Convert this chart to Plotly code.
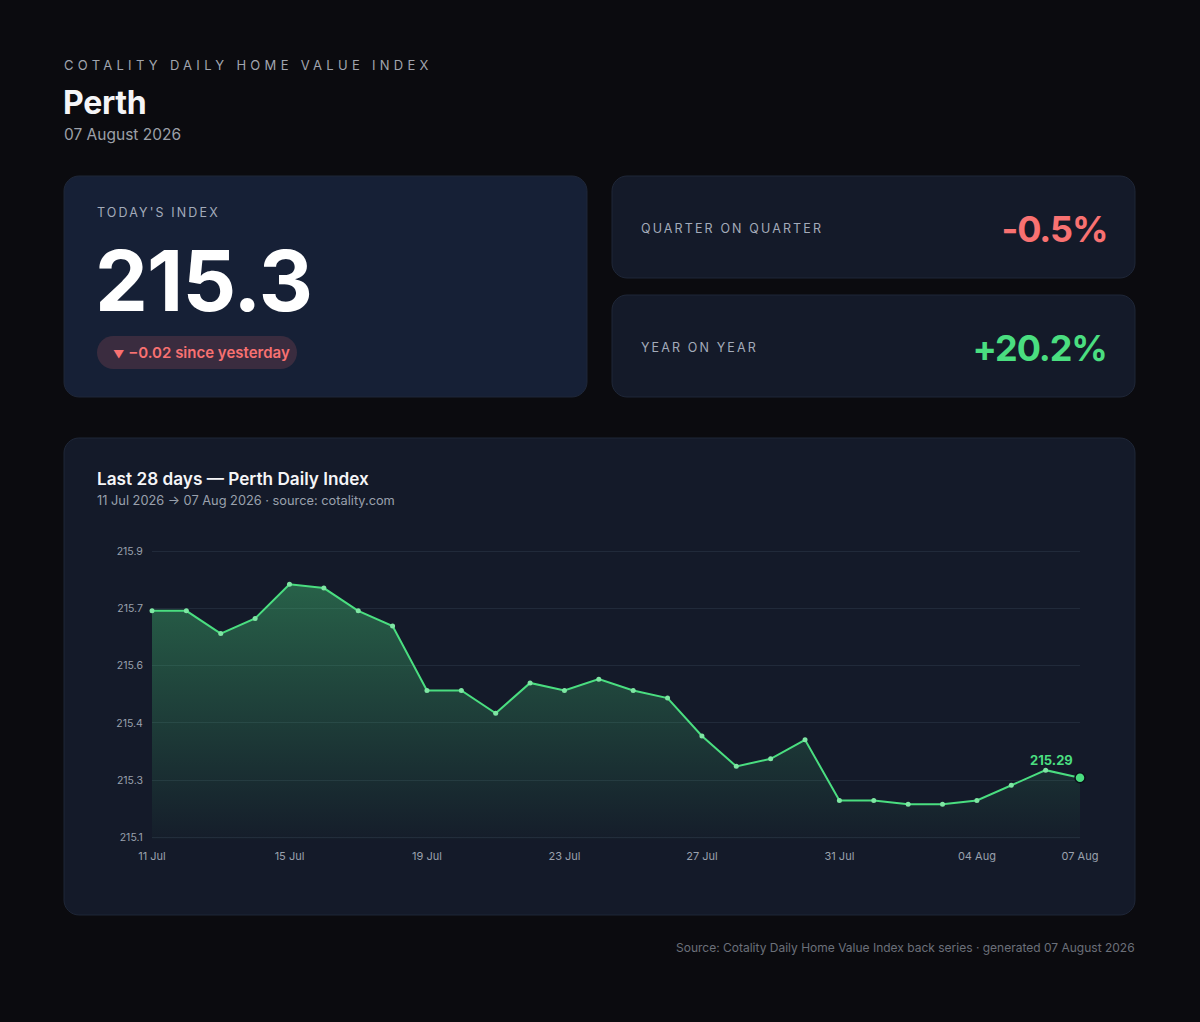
import json
import plotly.graph_objects as go

W, H = 1200, 1022

# data
dates = [
    "2026-07-11", "2026-07-12", "2026-07-13", "2026-07-14", "2026-07-15", "2026-07-16", "2026-07-17",
    "2026-07-18", "2026-07-19", "2026-07-20", "2026-07-21", "2026-07-22", "2026-07-23", "2026-07-24",
    "2026-07-25", "2026-07-26", "2026-07-27", "2026-07-28", "2026-07-29", "2026-07-30", "2026-07-31",
    "2026-08-01", "2026-08-02", "2026-08-03", "2026-08-04", "2026-08-05", "2026-08-06", "2026-08-07",
]
index_values = [
    215.73, 215.73, 215.67, 215.71, 215.80, 215.79, 215.73,
    215.69, 215.52, 215.52, 215.46, 215.54, 215.52, 215.55,
    215.52, 215.50, 215.40, 215.32, 215.34, 215.39, 215.23,
    215.23, 215.22, 215.22, 215.23, 215.27, 215.31, 215.29,
]
quarter_change = -0.5
year_change = 20.2
city = "Perth"
report_date = "07 August 2026"

BG = "#0b0b0f"
CARD = "#141a29"
CARD_HI = "#162036"
BORDER = "#1f2738"
GREEN = "#4ade80"
RED = "#f87171"
FONT = "Inter"

# plot box inside the chart card (pixels)
PLOT_L, PLOT_R, PLOT_T, PLOT_B = 152, 1080, 551.3, 837.3
GRID_PAD = 2  # px added above/below so the edge grid lines are kept


# UTILS
def fx(x):
    return x / W


def fy(y):
    return 1 - y / H


def rounded_path(x0, y0, x1, y1, r):
    k = 0.5523 * r
    pts = [
        "M %f,%f" % (fx(x0 + r), fy(y0)),
        "L %f,%f" % (fx(x1 - r), fy(y0)),
        "C %f,%f %f,%f %f,%f" % (fx(x1 - r + k), fy(y0), fx(x1), fy(y0 + r - k), fx(x1), fy(y0 + r)),
        "L %f,%f" % (fx(x1), fy(y1 - r)),
        "C %f,%f %f,%f %f,%f" % (fx(x1), fy(y1 - r + k), fx(x1 - r + k), fy(y1), fx(x1 - r), fy(y1)),
        "L %f,%f" % (fx(x0 + r), fy(y1)),
        "C %f,%f %f,%f %f,%f" % (fx(x0 + r - k), fy(y1), fx(x0), fy(y1 - r + k), fx(x0), fy(y1 - r)),
        "L %f,%f" % (fx(x0), fy(y0 + r)),
        "C %f,%f %f,%f %f,%f" % (fx(x0), fy(y0 + r - k), fx(x0 + r - k), fy(y0), fx(x0 + r), fy(y0)),
        "Z",
    ]
    return " ".join(pts)


def card(x0, y0, x1, y1, fill, r=15, line=BORDER):
    return dict(type="path", xref="paper", yref="paper", layer="below",
                path=rounded_path(x0, y0, x1, y1, r), fillcolor=fill,
                line=dict(color=line, width=1))


def label(x, y, text, size, color, weight=400, xanchor="left", align="left"):
    return dict(x=fx(x), y=fy(y), xref="paper", yref="paper", text=text, showarrow=False,
                xanchor=xanchor, yanchor="middle", align=align,
                font=dict(family=FONT, size=size, color=color, weight=weight))


last = index_values[-1]
delta = index_values[-1] - index_values[-2]
lo, hi = min(index_values), max(index_values)
pad = (hi - lo) * 0.15
y_lo, y_hi = lo - pad, hi + pad
y_ticks = [y_lo + i * (y_hi - y_lo) / 5 for i in range(6)]
x_ticks = dates[::4] + [dates[-1]]
eps = GRID_PAD * (y_hi - y_lo) / (PLOT_B - PLOT_T)

fig = go.Figure()

fig.add_trace(go.Scatter(
    x=dates, y=index_values, mode="lines+markers", fill="tozeroy",
    line=dict(color=GREEN, width=2),
    marker=dict(size=5, color="#7ee6a3"),
    fillgradient=dict(type="vertical", start=y_lo, stop=hi,
                      colorscale=[[0, "rgba(74,222,128,0.02)"], [1, "rgba(74,222,128,0.36)"]]),
    cliponaxis=False, hoverinfo="skip", showlegend=False))

fig.add_trace(go.Scatter(
    x=[dates[-1]], y=[last], mode="markers",
    marker=dict(size=10, color=GREEN, line=dict(color="#0b0f19", width=1.5)),
    cliponaxis=False, hoverinfo="skip", showlegend=False))

shapes = [
    card(64, 176, 587, 397, CARD_HI),
    card(612, 176, 1135, 278, CARD),
    card(612, 295, 1135, 397, CARD),
    card(64, 438, 1135, 915, CARD),
    card(97, 336, 297, 369, "rgba(248,113,113,0.16)", r=16.5, line="rgba(0,0,0,0)"),
]

delta_sign = "−" if delta < 0 else "+"
delta_arrow = "▼" if delta < 0 else "▲"
pill_text = '<span style="font-size:11px">%s</span> %s%.2f since yesterday' % (delta_arrow, delta_sign, abs(delta))
annotations = [
    label(62, 65, "COTALITY DAILY HOME VALUE INDEX", 13, "#a1a5ae"),
    label(61, 102, city, 32, "#f5f5f7", 700),
    label(62, 134, report_date, 15.5, "#9ca0a8"),
    label(95, 212, "TODAY'S INDEX", 12.5, "#a3abba"),
    label(93, 281, "%.1f" % last, 84, "#ffffff", 700),
    label(111, 352, pill_text, 15, RED, 600),
    label(639, 228, "QUARTER ON QUARTER", 12.5, "#a3abba"),
    label(1109, 229, "%+.1f%%" % quarter_change, 36, RED, 700, xanchor="right", align="right"),
    label(639, 347, "YEAR ON YEAR", 12.5, "#a3abba"),
    label(1109, 348, "%+.1f%%" % year_change, 36, GREEN, 700, xanchor="right", align="right"),
    label(95, 478, "Last 28 days — %s Daily Index" % city, 17.2, "#f5f5f7", 600),
    label(95, 500, "11 Jul 2026 → 07 Aug 2026 · source: cotality.com", 12.8, "#9aa1ad"),
    label(1137, 947, "Source: Cotality Daily Home Value Index back series · generated %s" % report_date,
          12, "#6b707a", xanchor="right", align="right"),
    dict(x=dates[-1], y=last, xref="x", yref="y", text="%.2f" % last, showarrow=False,
         xanchor="right", yanchor="bottom", xshift=-5, yshift=8,
         font=dict(family=FONT, size=13, color=GREEN, weight=700)),
]

fig.update_layout(
    width=W, height=H, autosize=False,
    margin=dict(l=0, r=0, t=0, b=0, autoexpand=False),
    paper_bgcolor=BG, plot_bgcolor="rgba(0,0,0,0)",
    font=dict(family=FONT, color="#9aa1ad"),
    shapes=shapes, annotations=annotations,
    xaxis=dict(domain=[fx(PLOT_L), fx(PLOT_R)], range=[dates[0], dates[-1]], type="date",
               tickvals=x_ticks, tickformat="%d %b", showgrid=False, zeroline=False, showline=False,
               automargin=False, ticks="outside", ticklen=6, tickcolor="rgba(0,0,0,0)",
               tickfont=dict(family=FONT, size=11, color="#9aa1ad")),
    yaxis=dict(domain=[fy(PLOT_B + GRID_PAD), fy(PLOT_T - GRID_PAD)], range=[y_lo - eps, y_hi + eps],
               tickvals=y_ticks, tickformat=".1f", showgrid=True, gridcolor="#212a3a", gridwidth=1,
               zeroline=False, showline=False, automargin=False, ticks="outside", ticklen=6,
               tickcolor="rgba(0,0,0,0)", tickfont=dict(family=FONT, size=10.5, color="#9aa1ad")),
)

spacing = {
    "COTALITY DAILY HOME VALUE INDEX": "0.33em",
    "TODAY'S INDEX": "0.17em",
    "QUARTER ON QUARTER": "0.17em",
    "YEAR ON YEAR": "0.17em",
    "%.1f" % last: "-0.01em",
    "%+.1f%%" % quarter_change: "-0.03em",
    "%+.1f%%" % year_change: "-0.03em",
    city: "-0.01em",
}
post = """
document.documentElement.style.background = '%s';
document.body.style.margin = '0';
document.body.style.background = '%s';
var gd = document.getElementById('{plot_id}');
var sp = %s;
gd.querySelectorAll('text.annotation-text').forEach(function(t){
  var v = sp[t.textContent];
  if (v) { t.style.letterSpacing = v; }
});
""" % (BG, BG, json.dumps(spacing))

fig.write_html("out.html", config={"displayModeBar": False, "staticPlot": True}, post_script=post)
